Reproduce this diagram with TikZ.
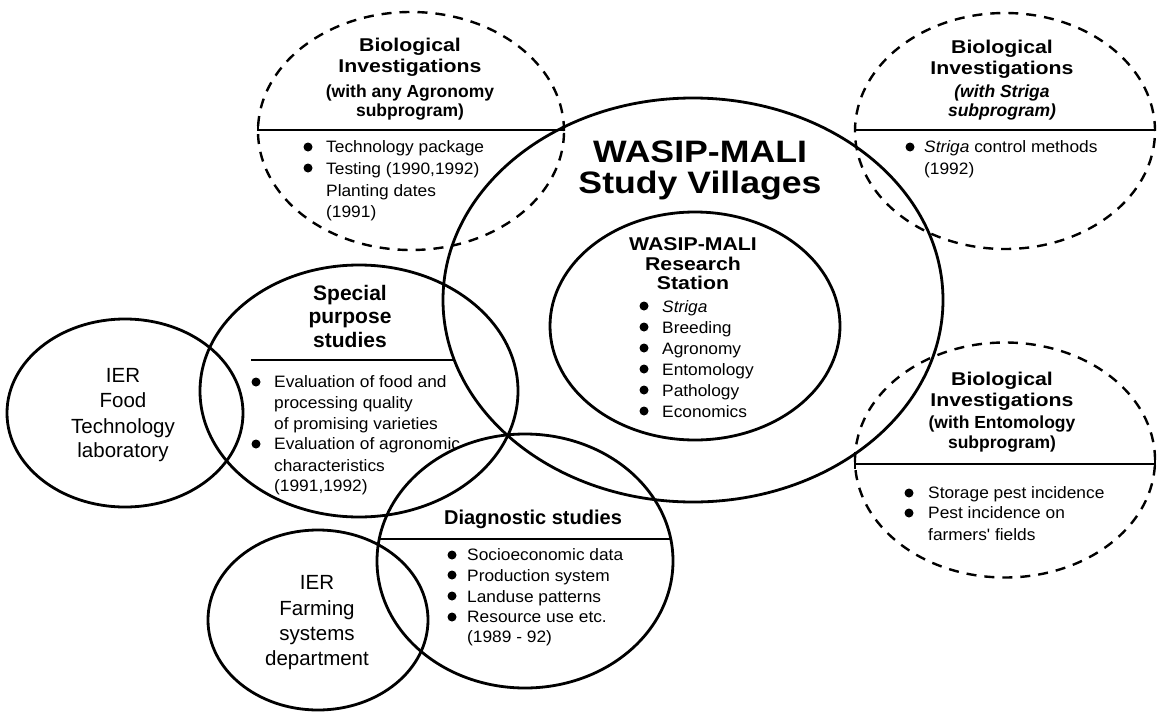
\documentclass[tikz,border=0pt]{standalone}
\usepackage{fontspec}
\setmainfont{Liberation Sans}
\newfontfamily\bodyf[FakeStretch=1.05]{Liberation Sans}
\newfontfamily\widef[FakeStretch=1.15]{Liberation Sans}
\usetikzlibrary{shapes.geometric}
\tikzset{
  ell/.style={ellipse, draw, line width=2.8pt, inner sep=0pt},
  dell/.style={ellipse, draw, line width=2.4pt, dash pattern=on 10pt off 8pt, inner sep=0pt},
  divider/.style={line width=2.2pt},
  body/.style={anchor=base west, inner sep=0pt, font=\bodyf\fontsize{16.5}{20}\selectfont},
  ttl/.style={anchor=base, inner sep=0pt, font=\widef\bfseries\fontsize{18.5}{20}\selectfont},
  subttl/.style={anchor=base, inner sep=0pt, font=\bfseries\fontsize{17.5}{20}\selectfont},
  bigttl/.style={anchor=base, inner sep=0pt, font=\widef\bfseries\fontsize{31}{32}\selectfont},
  sttl/.style={anchor=base, inner sep=0pt, font=\bfseries\fontsize{21}{24}\selectfont},
  plainttl/.style={anchor=base, inner sep=0pt, font=\fontsize{20.5}{24}\selectfont},
}
\newcommand\bul[1]{\fill #1 circle (4.5pt);}
\begin{document}
\begin{tikzpicture}[x=1pt,y=-1pt]
\useasboundingbox (0,0) rectangle (1162,712);
\fill[white] (0,0) rectangle (1162,712);

% ---- ellipses ----
\node[dell, minimum width=306pt, minimum height=238pt] (agro) at (411,131) {};
\node[dell, minimum width=300pt, minimum height=236pt] (strig) at (1005,131) {};
\node[dell, minimum width=300pt, minimum height=235pt] (ento) at (1005,460) {};
\node[ell, minimum width=500pt, minimum height=404pt] (vill) at (693,300) {};
\node[ell, minimum width=290pt, minimum height=228pt] (stat) at (695,326) {};
\node[ell, minimum width=318pt, minimum height=252pt] (spec) at (359,391) {};
\node[ell, minimum width=236pt, minimum height=188pt] (food) at (125,413) {};
\node[ell, minimum width=296pt, minimum height=254pt] (diag) at (525,561) {};
\node[ell, minimum width=220pt, minimum height=180pt] (farm) at (318,620) {};

% ---- dividers ----
\coordinate (agroL) at (258,130); \coordinate (agroR) at (564,130);
\coordinate (strigL) at (855,130); \coordinate (strigR) at (1155,130);
\coordinate (entoL) at (855,464); \coordinate (entoR) at (1155,464);
\coordinate (specL) at (251,360); \coordinate (specR) at (454,360);
\coordinate (diagL) at (379,539); \coordinate (diagR) at (671,539);
\draw[divider] ([yshift=7pt]agroL) -- (agroL) -- (agroR) -- ([yshift=7pt]agroR);
\draw[divider] ([yshift=7pt]strigL) -- (strigL) -- (strigR) -- ([yshift=7pt]strigR);
\draw[divider] ([yshift=6pt]entoL) -- ([yshift=-5pt]entoL) (entoL) -- (entoR) ([yshift=6pt]entoR) -- ([yshift=-5pt]entoR);
\draw[divider] (specL) -- (specR);
\draw[divider] (diagL) -- (diagR);

% ---- top-left: agronomy ----
\node[ttl] (agroT1) at (410,51) {Biological};
\node[ttl] (agroT2) at (410,72) {Investigations};
\node[subttl] (agroT3) at (410,97) {(with any Agronomy};
\node[subttl] (agroT4) at (410,116) {subprogram)};
\bul{(308,147)} \bul{(308,168)}
\node[body] (agroB1) at (326,152) {Technology package};
\node[body] (agroB2) at (326,174) {Testing (1990,1992)};
\node[body] (agroB3) at (326,196) {Planting dates};
\node[body] (agroB4) at (326,217) {(1991)};

% ---- top-right: striga ----
\node[ttl] (strT1) at (1002,53) {Biological};
\node[ttl] (strT2) at (1002,74) {Investigations};
\node[subttl, font=\bfseries\itshape\fontsize{17.5}{20}\selectfont] (strT3) at (1002,97) {(with Striga};
\node[subttl, font=\bfseries\itshape\fontsize{17.5}{20}\selectfont] (strT4) at (1002,116) {subprogram)};
\bul{(910,147)}
\node[body] (strB1) at (924,152) {\textit{Striga} control methods};
\node[body] (strB2) at (924,174) {(1992)};

% ---- bottom-right: entomology ----
\node[ttl] (entT1) at (1002,385) {Biological};
\node[ttl] (entT2) at (1002,406) {Investigations};
\node[subttl] (entT3) at (1002,428) {(with Entomology};
\node[subttl] (entT4) at (1002,448) {subprogram)};
\bul{(909,493)} \bul{(909,513)}
\node[body] (entB1) at (928,498) {Storage pest incidence};
\node[body] (entB2) at (928,518) {Pest incidence on};
\node[body] (entB3) at (928,540) {farmers' fields};

% ---- study villages ----
\node[bigttl] (villT1) at (700,162) {WASIP-MALI};
\node[bigttl] (villT2) at (700,193) {Study Villages};

% ---- research station ----
\node[ttl] (statT1) at (693,250) {WASIP-MALI};
\node[ttl] (statT2) at (693,270) {Research};
\node[ttl] (statT3) at (693,289) {Station};
\bul{(644,306)} \bul{(644,327)} \bul{(644,348)} \bul{(644,369)} \bul{(644,390)} \bul{(644,411)}
\node[body] (statB1) at (662,312) {\textit{Striga}};
\node[body] (statB2) at (662,333) {Breeding};
\node[body] (statB3) at (662,354) {Agronomy};
\node[body] (statB4) at (662,375) {Entomology};
\node[body] (statB5) at (662,396) {Pathology};
\node[body] (statB6) at (662,417) {Economics};

% ---- special purpose studies ----
\node[sttl] (specT1) at (350,300) {Special};
\node[sttl] (specT2) at (350,323) {purpose};
\node[sttl] (specT3) at (350,347) {studies};
\bul{(256,382)} \bul{(256,444)}
\node[body] (specB1) at (274,387) {Evaluation of food and};
\node[body] (specB2) at (274,408) {processing quality};
\node[body] (specB3) at (274,429) {of promising varieties};
\node[body] (specB4) at (274,449) {Evaluation of agronomic};
\node[body] (specB5) at (274,471) {characteristics};
\node[body] (specB6) at (274,491) {(1991,1992)};

% ---- IER food technology ----
\node[plainttl] (foodT1) at (123,382) {IER};
\node[plainttl] (foodT2) at (123,407) {Food};
\node[plainttl] (foodT3) at (123,433) {Technology};
\node[plainttl] (foodT4) at (123,457) {laboratory};

% ---- diagnostic studies ----
\node[sttl, font=\bfseries\fontsize{20}{24}\selectfont] (diagT) at (533,524) {Diagnostic studies};
\bul{(452,555)} \bul{(452,575)} \bul{(452,596)} \bul{(452,617)}
\node[body] (diagB1) at (467,560) {Socioeconomic data};
\node[body] (diagB2) at (467,581) {Production system};
\node[body] (diagB3) at (467,602) {Landuse patterns};
\node[body] (diagB4) at (467,622) {Resource use etc.};
\node[body] (diagB5) at (467,642) {(1989 - 92)};

% ---- IER farming systems ----
\node[plainttl] (farmT1) at (317,589) {IER};
\node[plainttl] (farmT2) at (317,615) {Farming};
\node[plainttl] (farmT3) at (317,640) {systems};
\node[plainttl] (farmT4) at (317,665) {department};
\end{tikzpicture}
\end{document}
